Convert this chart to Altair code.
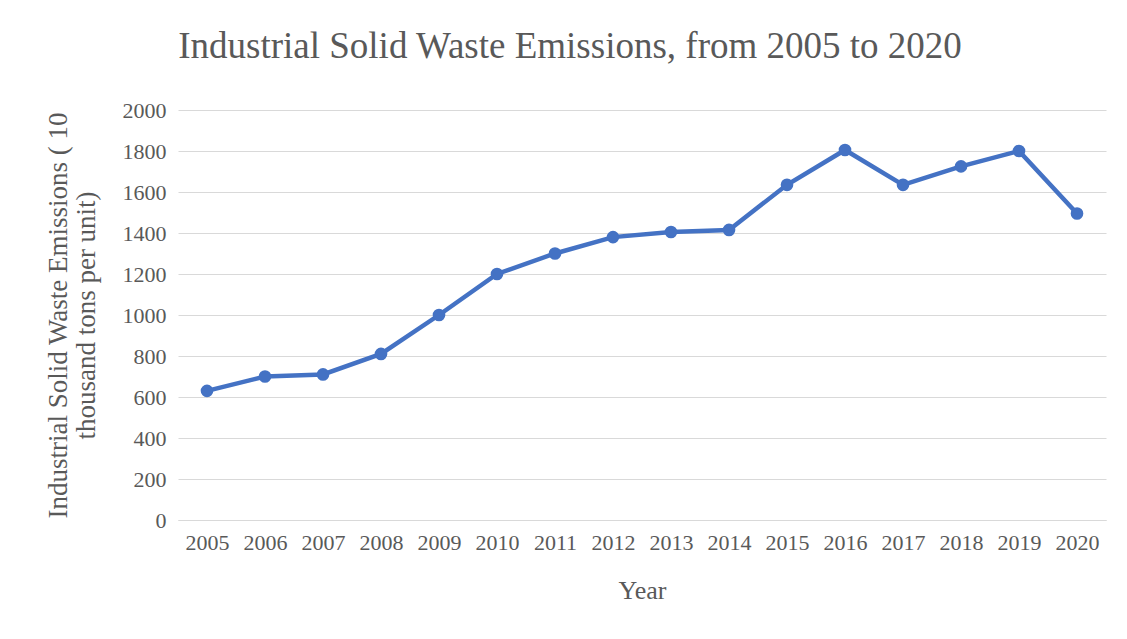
import altair as alt
import pandas as pd

years = [str(y) for y in range(2005, 2021)]
emissions = [630, 700, 710, 810, 1000, 1200, 1300, 1380, 1405, 1415,
             1635, 1805, 1635, 1725, 1800, 1495]

df = pd.DataFrame({"Year": years, "Emissions": emissions})

TEXT = "#595959"
BLUE = "#4472C4"
FONT = "Liberation Serif"

base = alt.Chart(df).encode(
    x=alt.X(
        "Year:O",
        sort=years,
        scale=alt.Scale(type="point", padding=0.5),
        axis=alt.Axis(
            title="Year",
            labelAngle=0,
            labelFontSize=22,
            labelColor=TEXT,
            labelPadding=12,
            titleFontSize=26,
            titleColor=TEXT,
            titleFontWeight="normal",
            titlePadding=24,
            domainColor="#d9d9d9",
            ticks=False,
            grid=False,
        ),
    ),
    y=alt.Y(
        "Emissions:Q",
        scale=alt.Scale(domain=[0, 2000]),
        axis=alt.Axis(
            title=["Industrial Solid Waste Emissions ( 10", "thousand tons per unit)"],
            values=list(range(0, 2001, 200)),
            format="d",
            labelFontSize=22,
            labelColor=TEXT,
            labelPadding=12,
            titleFontSize=27,
            titleLineHeight=28,
            titleColor=TEXT,
            titleFontWeight="normal",
            titlePadding=22,
            domain=False,
            ticks=False,
            gridColor="#d9d9d9",
            gridWidth=1.2,
        ),
    ),
)

line = base.mark_line(color=BLUE, strokeWidth=4.5)
points = base.mark_point(color=BLUE, filled=True, opacity=1, size=160)

chart = (
    alt.layer(line, points)
    .properties(
        width=928,
        height=410,
        title=alt.TitleParams(
            "Industrial Solid Waste Emissions, from 2005 to 2020",
            fontSize=37,
            font=FONT,
            fontWeight="normal",
            color=TEXT,
            anchor="middle",
            dx=-72,
            offset=33,
        ),
        padding={"left": 178, "top": 110, "right": 21, "bottom": 119},
        autosize=alt.AutoSizeParams(type="none"),
    )
    .configure(font=FONT, background="white")
    .configure_view(stroke=None)
)

chart.save("out.html", embed_options={"renderer": "svg", "actions": False})
